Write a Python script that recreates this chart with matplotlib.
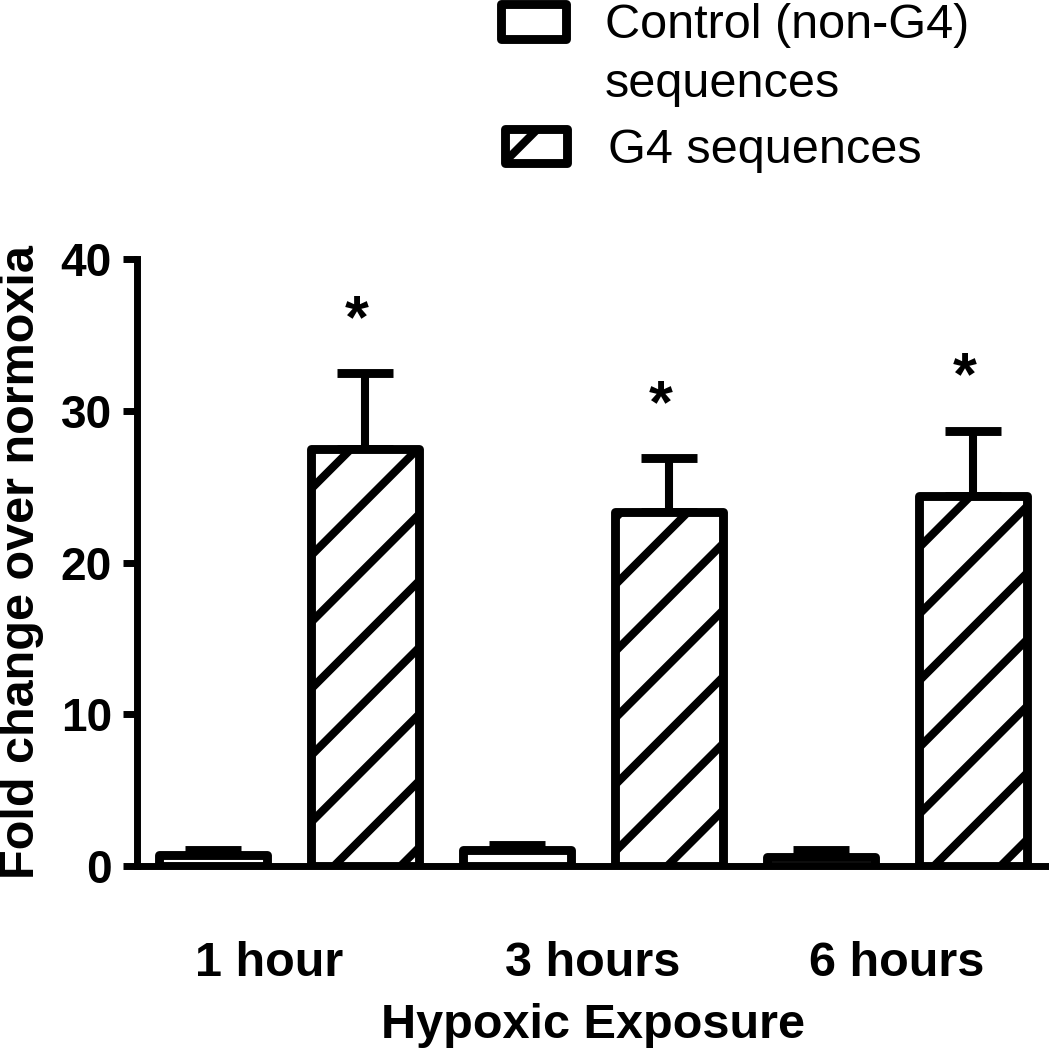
import numpy as np
import matplotlib
matplotlib.use("Agg")
import matplotlib.pyplot as plt
from matplotlib.patches import Rectangle

plt.rcParams['font.family'] = ['Liberation Sans', 'DejaVu Sans']
plt.rcParams['hatch.linewidth'] = 2.9
plt.rcParams['hatch.color'] = 'black'

groups = ["1 hour", "3 hours", "6 hours"]
control = [0.7, 1.05, 0.6]
control_err = [0.35, 0.35, 0.45]
g4 = [27.5, 23.3, 24.4]
g4_err = [5.0, 3.6, 4.3]
legend_labels = ["Control (non-G4)\nsequences", "G4 sequences"]
yticks = [0, 10, 20, 30, 40]

# drawn at 200 dpi so the hatch spacing comes out wide like the original
DPI = 200
W, H = 1049, 1050
fig = plt.figure(figsize=(W / DPI, H / DPI), dpi=DPI)
ax = fig.add_axes([0.1306, 0.1752, 0.8694, 0.5781])

lw = 3.2
x = np.arange(len(groups)) * 2
width = 0.71

ax.bar(x, control, width, color='white', edgecolor='black', linewidth=lw,
       joinstyle='round', zorder=3)
ax.bar(x + 1, g4, width, color='white', edgecolor='black', linewidth=lw,
       hatch='/', joinstyle='round', zorder=3)

ax.errorbar(x, control, yerr=[np.zeros(len(x)), control_err], fmt='none',
            ecolor='black', elinewidth=2.9, capsize=10, capthick=3.2, zorder=2)
ax.errorbar(x + 1, g4, yerr=[np.zeros(len(x)), g4_err], fmt='none',
            ecolor='black', elinewidth=2.9, capsize=10, capthick=3.2, zorder=2)

# significance stars
for xi, v, e in zip(x + 1, g4, g4_err):
    ax.annotate('*', (xi, v + e), xytext=(-3, 13), textcoords='offset points',
                ha='center', va='baseline', fontsize=22, fontweight='bold')

ax.set_xlim(-0.5, 5.5)
ax.set_ylim(0, 40)
ax.set_yticks(yticks)
label_shift = [-0.13, 0.0, 0.0]
ax.set_xticks(x + 0.5 + np.array(label_shift))
ax.set_xticklabels(groups, fontsize=17.5, fontweight='bold')
ax.tick_params(axis='x', length=0, pad=27)
ax.tick_params(axis='y', length=5, width=2.5, pad=4, labelsize=16.5)
for t in ax.get_yticklabels():
    t.set_fontweight('bold')

for s in ['top', 'right']:
    ax.spines[s].set_visible(False)
for s in ['left', 'bottom']:
    ax.spines[s].set_linewidth(2.5)

ax.set_xlabel('Hypoxic Exposure', fontsize=17.5, fontweight='bold', labelpad=6)
ax.set_ylabel('Fold change over normoxia', fontsize=17.5, fontweight='bold', labelpad=6)

# legend drawn by hand, handle sits next to the first text line
def fig_rect(x0, y0, x1, y1, **kw):
    r = Rectangle((x0 / W, 1 - y1 / H), (x1 - x0) / W, (y1 - y0) / H,
                  transform=fig.transFigure, facecolor='white', edgecolor='black',
                  linewidth=lw, joinstyle='round', **kw)
    fig.add_artist(r)

fig_rect(500.5, 4.5, 565.5, 38.5)
fig_rect(504.5, 129.5, 566.5, 162.5, hatch='/')
fig.text(605 / W, 1 - 97 / H, legend_labels[0], fontsize=17.5, va='baseline',
         ha='left', linespacing=1.4)
fig.text(608 / W, 1 - 163 / H, legend_labels[1], fontsize=17.5, va='baseline', ha='left')

fig.savefig('out.png', dpi=DPI)
